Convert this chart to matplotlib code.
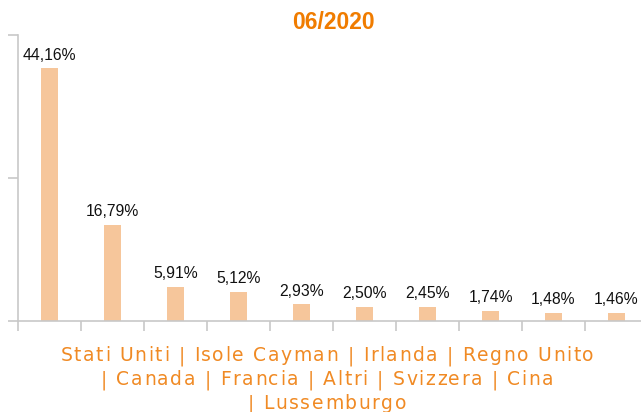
import numpy as np
import matplotlib
matplotlib.use("Agg")
import matplotlib.pyplot as plt
from matplotlib import font_manager, ft2font

# quote per paese, 06/2020
paesi = ["Stati Uniti", "Isole Cayman", "Irlanda", "Regno Unito", "Canada",
         "Francia", "Altri", "Svizzera", "Cina", "Lussemburgo"]
quote = [44.16, 16.79, 5.91, 5.12, 2.93, 2.50, 2.45, 1.74, 1.48, 1.46]

bar_col = "#f6c69b"
orange = "#f08a24"
grey = "#c8c8c8"
W, H, DPI = 641, 412, 100

fig = plt.figure(figsize=(W / DPI, H / DPI), dpi=DPI)
ax = fig.add_axes([18 / W, 1 - 321 / H, 630 / W, 286 / H])

x = np.arange(len(paesi))
ax.bar(x, quote, width=0.27, color=bar_col)
for xi, v in zip(x, quote):
    ax.text(xi, v + 1.0, f"{v:.2f}%".replace(".", ","), ha="center", va="bottom",
            fontsize=11.3, family="Liberation Sans", color="#111111")

ax.set_xlim(-0.5, len(paesi) - 0.5)
ax.set_ylim(0, 50)
ax.set_yticks([0, 25, 50])
ax.set_yticklabels([])
ax.set_xticks(np.arange(-0.5, len(paesi) + 0.5, 1))
ax.set_xticklabels([])
ax.tick_params(axis="both", color=grey, width=1.2, length=7)

for s in ["top", "right"]:
    ax.spines[s].set_visible(False)
for s in ["left", "bottom"]:
    ax.spines[s].set_color(grey)
    ax.spines[s].set_linewidth(1.2)

ax.set_title("06/2020", color="#f07c00", fontsize=16.5, fontweight="bold",
             family="Liberation Sans", pad=4)

# etichetta asse x: nomi uniti da " | ", a capo prima del "|"
righe = [" | ".join(paesi[:4]), "| " + " | ".join(paesi[4:9]), "| " + paesi[9]]

# testo con spaziatura tra lettere (matplotlib non la supporta)
fs = 13.5
spacing = 1.6
font = ft2font.FT2Font(font_manager.findfont("DejaVu Sans"))
font.set_size(fs, DPI)


def adv(ch):
    return font.load_char(ord(ch)).linearHoriAdvance / 65536


cx = 327
for i, riga in enumerate(righe):
    larghezze = [adv(c) for c in riga]
    tot = sum(larghezze) + spacing * (len(riga) - 1)
    xpos = cx - tot / 2
    base = 361 + 24 * i
    for c, w in zip(riga, larghezze):
        if c != " ":
            fig.text(xpos / W, 1 - base / H, c, ha="left", va="baseline",
                     fontsize=fs, color=orange, family="DejaVu Sans")
        xpos += w + spacing

fig.savefig("out.png", dpi=DPI)
